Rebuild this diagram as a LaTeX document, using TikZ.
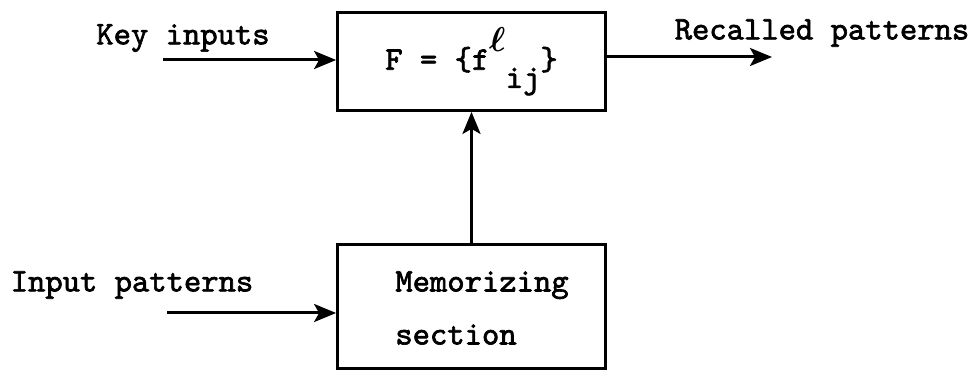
\documentclass[tikz,border=0pt]{standalone}
\usepackage{fontspec}
\setmonofont{lmmono10-regular.otf}[AutoFakeBold=2]
\usepackage{tikz}
\usetikzlibrary{arrows.meta, positioning, calc}

\begin{document}
\begin{tikzpicture}[
        x=0.5pt, y=-0.5pt,
        block/.style={rectangle, draw=black, line width=1.4pt, minimum width=134pt, inner sep=0pt, font=\ttfamily\bfseries\fontsize{16.5}{26.5}\selectfont},
        flow/.style={-{Stealth[length=11pt, width=9pt, inset=2.5pt]}, line width=1.5pt},
        label/.style={font=\ttfamily\bfseries\fontsize{16.5}{17}\selectfont, inner sep=0pt}
    ]
        \useasboundingbox (0,0) rectangle (976,373);

        \node[block, minimum height=49pt] (fmap) at (471.5,61.5) {F = \{f\rlap{\raisebox{.55em}{\fontsize{19}{19}\selectfont\boldmath$\ell$}}\hspace{.5em}\raisebox{-.55em}{ij}\}};
        \node[block, minimum height=62pt] (memo) at (471.5,306.5) {};
        \node[label, align=left] (memotext) at (482,308) {Memorizing\\[9.5pt]section};

        \node[label] (keytext) at (183,38) {Key inputs};
        \node[label] (rectext) at (822,33) {Recalled patterns};
        \node[label] (inptext) at (132,285) {Input patterns};

        \coordinate (keyin) at (163,60);
        \coordinate (recout) at (772,57);
        \coordinate (inpin) at (167,313);

        \draw[flow] (keyin) -- (keyin -| fmap.west);
        \draw[flow] (fmap.east |- recout) -- (recout);
        \draw[flow] (memo.north) -- (fmap.south);
        \draw[flow] (inpin) -- (inpin -| memo.west);
    \end{tikzpicture}
\end{document}
